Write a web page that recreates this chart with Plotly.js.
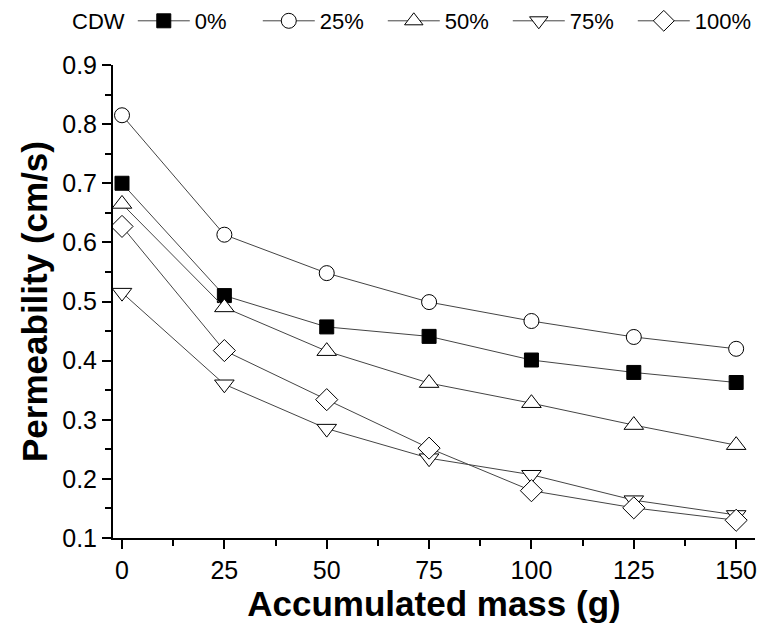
<!DOCTYPE html>
<html>
<head>
<meta charset="utf-8">
<script src="https://cdn.plot.ly/plotly-3.0.1.min.js"></script>
<style>html,body{margin:0;padding:0;background:#fff;}#chart{width:761px;height:635px;}</style>
</head>
<body>
<div id="chart"></div>
<script>
const mass = [0, 25, 50, 75, 100, 125, 150];
const seriesNames = ['0%', '25%', '50%', '75%', '100%'];
const cdw0 = [0.700, 0.510, 0.457, 0.441, 0.401, 0.380, 0.363];
const cdw25 = [0.815, 0.613, 0.548, 0.499, 0.467, 0.440, 0.420];
const cdw50 = [0.665, 0.490, 0.416, 0.362, 0.328, 0.291, 0.257];
const cdw75 = [0.515, 0.360, 0.285, 0.235, 0.207, 0.164, 0.139];
const cdw100 = [0.627, 0.417, 0.334, 0.252, 0.180, 0.151, 0.130];
const yTickVals = [0.1, 0.2, 0.3, 0.4, 0.5, 0.6, 0.7, 0.8, 0.9];
const xTickVals = [0, 25, 50, 75, 100, 125, 150];

const allY = [cdw0, cdw25, cdw50, cdw75, cdw100];
const symbols = ['square', 'circle', 'triangle-up', 'triangle-down', 'diamond'];
const sizes = [14, 15, 17, 17, 17];
const fills = ['#000', '#fff', '#fff', '#fff', '#fff'];

const traces = allY.map((y, i) => ({
  x: mass, y: y, name: seriesNames[i], type: 'scatter', mode: 'lines+markers',
  line: {color: '#444', width: 1},
  marker: {symbol: symbols[i], size: sizes[i], color: fills[i], line: {color: '#000', width: 1}}
}));

const font = 'Arial, "Liberation Sans", sans-serif';
const layout = {
  width: 761, height: 635,
  margin: {l: 113, r: 6, t: 65, b: 97},
  paper_bgcolor: '#fff', plot_bgcolor: '#fff',
  font: {family: font, color: '#000'},
  showlegend: true,
  legend: {
    orientation: 'h', x: 0.092, xanchor: 'left', y: 1.0, yanchor: 'top',
    yref: 'container', xref: 'container',
    title: {text: 'CDW', side: 'left', font: {size: 22}},
    font: {size: 22}, itemwidth: 52, entrywidth: 58, tracegroupgap: 0,
    bgcolor: 'rgba(0,0,0,0)'
  },
  xaxis: {
    range: [-2.2, 154.6], tickvals: xTickVals, ticks: 'outside', ticklen: 9, tickwidth: 2,
    tickcolor: '#000', showline: true, linecolor: '#000', linewidth: 2, showgrid: false, zeroline: false,
    tickfont: {size: 25, family: font},
    minor: {ticks: 'outside', dtick: 12.5, tick0: 0, ticklen: 6, tickwidth: 2, tickcolor: '#000', showgrid: false},
    title: {text: '<b>Accumulated mass (g)</b>', font: {size: 35, family: font}, standoff: 6}
  },
  yaxis: {
    range: [0.1, 0.9], tickvals: yTickVals, ticktext: yTickVals.map(v => v.toFixed(1)),
    ticks: 'outside', ticklen: 9, tickwidth: 2,
    tickcolor: '#000', showline: true, linecolor: '#000', linewidth: 2, showgrid: false, zeroline: false,
    tickfont: {size: 25, family: font},
    minor: {ticks: 'outside', dtick: 0.05, tick0: 0.1, ticklen: 6, tickwidth: 2, tickcolor: '#000', showgrid: false},
    title: {text: '<b>Permeability (cm/s)</b>', font: {size: 35, family: font}, standoff: 4}
  }
};
Plotly.newPlot('chart', traces, layout, {displayModeBar: false, staticPlot: true});
</script>
</body>
</html>
